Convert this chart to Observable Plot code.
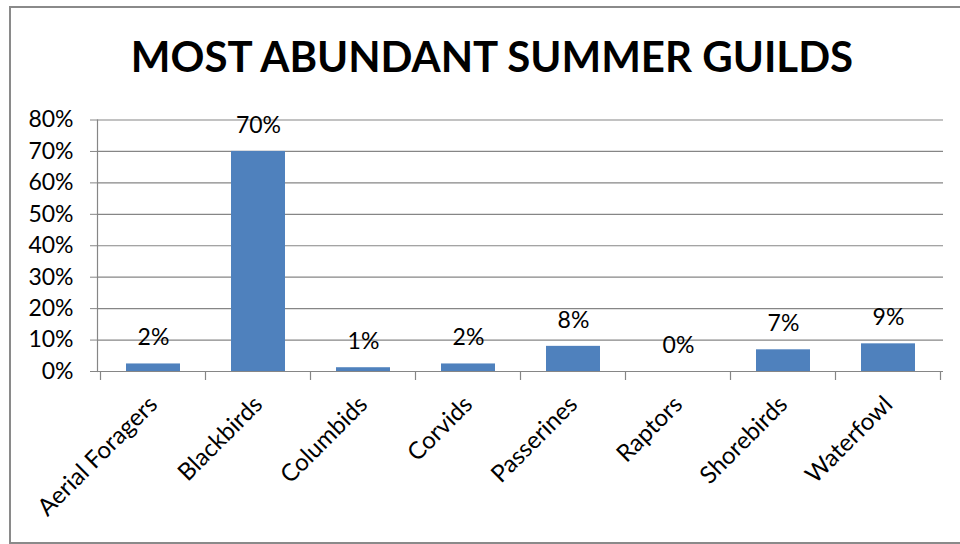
<!DOCTYPE html>
<html>
<head>
<meta charset="utf-8">
<script src="https://cdn.jsdelivr.net/npm/d3@7"></script>
<script src="https://cdn.jsdelivr.net/npm/@observablehq/plot@0.6"></script>
<style>
  html, body { margin: 0; padding: 0; background: #fff; }
  body { position: relative; width: 960px; height: 544px; overflow: hidden; font-family: Lato, "Open Sans", sans-serif; }
  #frame { position: absolute; left: 9px; top: 6px; width: 980px; height: 538px; border: 2px solid #8a8a8a; box-sizing: border-box; pointer-events: none; }
  #title { position: absolute; left: 0; top: 35px; width: 984px; text-align: center; font-family: Lato, sans-serif; font-weight: 700; font-size: 42px; line-height: 1; color: #000; white-space: nowrap; }
  #chart { position: absolute; left: 0; top: 105px; }
</style>
</head>
<body>
<div id="frame"></div>
<div id="title">MOST ABUNDANT SUMMER GUILDS</div>
<div id="chart"></div>
<script>
const categories = ["Aerial Foragers", "Blackbirds", "Columbids", "Corvids", "Passerines", "Raptors", "Shorebirds", "Waterfowl"];
const shares = [0.024, 0.70, 0.012, 0.024, 0.080, 0.000, 0.069, 0.088];
const valueLabels = ["2%", "70%", "1%", "2%", "8%", "0%", "7%", "9%"];
const yTicks = [0, 0.1, 0.2, 0.3, 0.4, 0.5, 0.6, 0.7, 0.8];

const data = categories.map((c, i) => ({category: c, share: shares[i], label: valueLabels[i]}));

function categoryTicks(index, scales) {
  const x = scales.x, y = scales.y;
  const bw = typeof x.bandwidth === "function" ? x.bandwidth() : x.bandwidth;
  let step = typeof x.step === "function" ? x.step() : x.step;
  if (!step) step = x(categories[1]) - x(categories[0]);
  const off = (step - bw) / 2;
  const xs = categories.map(c => x(c) - off);
  xs.push(x(categories[categories.length - 1]) + bw + off);
  const y0 = y(0);
  const g = d3.create("svg:g");
  g.selectAll("line").data(xs).join("line")
    .attr("x1", d => d).attr("x2", d => d)
    .attr("y1", y0).attr("y2", y0 + 9)
    .attr("stroke", "#868686").attr("stroke-width", 1.2);
  return g.node();
}

const chart = Plot.plot({
  width: 960,
  height: 439,
  marginTop: 14.5,
  marginBottom: 173,
  marginLeft: 97,
  marginRight: 17,
  style: {fontFamily: "Lato, 'Open Sans', sans-serif", fontSize: "23px", color: "#000", background: "transparent"},
  x: {domain: categories, paddingInner: 0.49, paddingOuter: 0.245, label: null},
  y: {domain: [0, 0.8], label: null},
  marks: [
    Plot.gridY(yTicks, {stroke: "#868686", strokeOpacity: 1, strokeWidth: 1.2}),
    Plot.ruleY([0], {stroke: "#868686", strokeWidth: 1.2}),
    Plot.frame({anchor: "left", stroke: "#868686", strokeWidth: 1.2}),
    Plot.axisY(yTicks, {tickFormat: d3.format(".0%"), tickSize: 7, tickPadding: 17, stroke: "#868686", fontSize: 23, fill: "#000", label: null}),
    Plot.axisX({tickSize: 0, tickPadding: 29, tickRotate: -45, fontSize: 24, fill: "#000", label: null}),
    categoryTicks,
    Plot.barY(data, {x: "category", y: "share", fill: "#4F81BD"}),
    Plot.text(data, {x: "category", y: "share", text: "label", dy: -26, fontSize: 23, fill: "#000"})
  ]
});
document.getElementById("chart").appendChild(chart);
</script>
</body>
</html>
